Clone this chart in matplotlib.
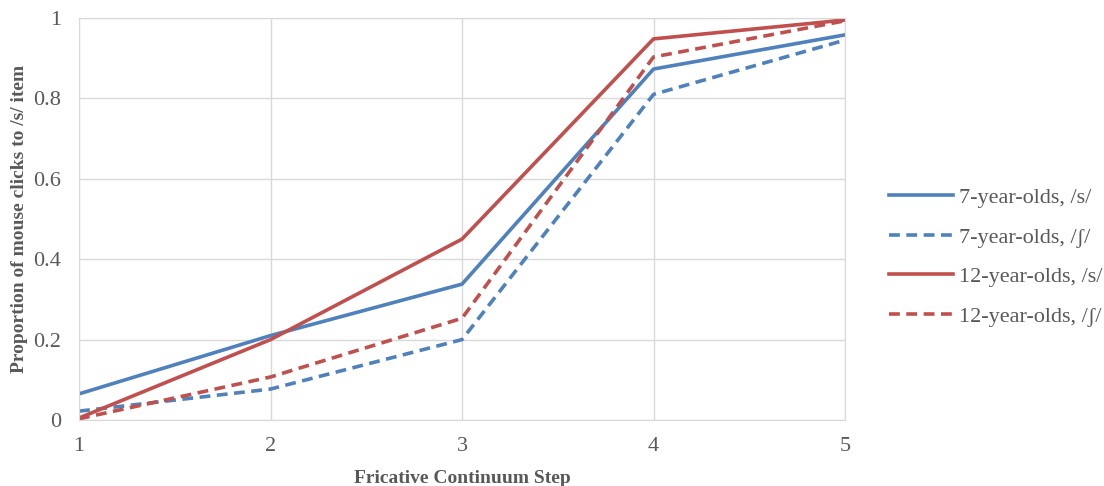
import matplotlib
matplotlib.use('Agg')
import matplotlib.pyplot as plt

steps = [1, 2, 3, 4, 5]
seven_s = [0.065, 0.21, 0.338, 0.873, 0.958]
seven_sh = [0.022, 0.077, 0.2, 0.81, 0.945]
twelve_s = [0.005, 0.2, 0.45, 0.948, 0.995]
twelve_sh = [0.003, 0.107, 0.253, 0.903, 0.993]
labels = ['7-year-olds, /s/', '7-year-olds, /\u0283/', '12-year-olds, /s/', '12-year-olds, /\u0283/']

plt.rcParams['font.family'] = ['Liberation Serif', 'DejaVu Serif']

blue = '#4F81BD'
red = '#C0504D'
grey = '#595959'

fig = plt.figure(figsize=(11.04, 4.86), dpi=100)
ax = fig.add_axes([0.0716, 0.1358, 0.6938, 0.8272])

ax.plot(steps, seven_s, color=blue, lw=2.6, label=labels[0])
ax.plot(steps, seven_sh, color=blue, lw=2.6, ls=(0, (3, 1.8)), label=labels[1])
ax.plot(steps, twelve_s, color=red, lw=2.6, label=labels[2])
ax.plot(steps, twelve_sh, color=red, lw=2.6, ls=(0, (3, 1.8)), label=labels[3])

ax.set_xlim(1, 5)
ax.set_ylim(0, 1)
ax.set_xticks(steps)
ax.set_yticks([0, 0.2, 0.4, 0.6, 0.8, 1])
ax.set_yticklabels(['0', '0.2', '0.4', '0.6', '0.8', '1'])
ax.grid(True, color='#D9D9D9', lw=1)
ax.set_axisbelow(True)
for s in ax.spines.values():
    s.set_color('#D9D9D9')
ax.tick_params(length=0, labelsize=16, colors=grey)
ax.tick_params(axis='y', pad=13)
ax.tick_params(axis='x', pad=12)

ax.set_xlabel('Fricative Continuum Step', fontsize=14, fontweight='bold', color=grey, labelpad=10)
ax.set_ylabel('Proportion of mouse clicks to /s/ item', fontsize=14, fontweight='bold', color=grey, labelpad=4)

leg = fig.legend(loc='upper left', bbox_to_anchor=(0.787, 0.655), frameon=False,
                 fontsize=16, handlelength=2.9, handletextpad=0.27, labelspacing=0.85)
for t in leg.get_texts():
    t.set_color(grey)

fig.savefig('out.png', dpi=100)
